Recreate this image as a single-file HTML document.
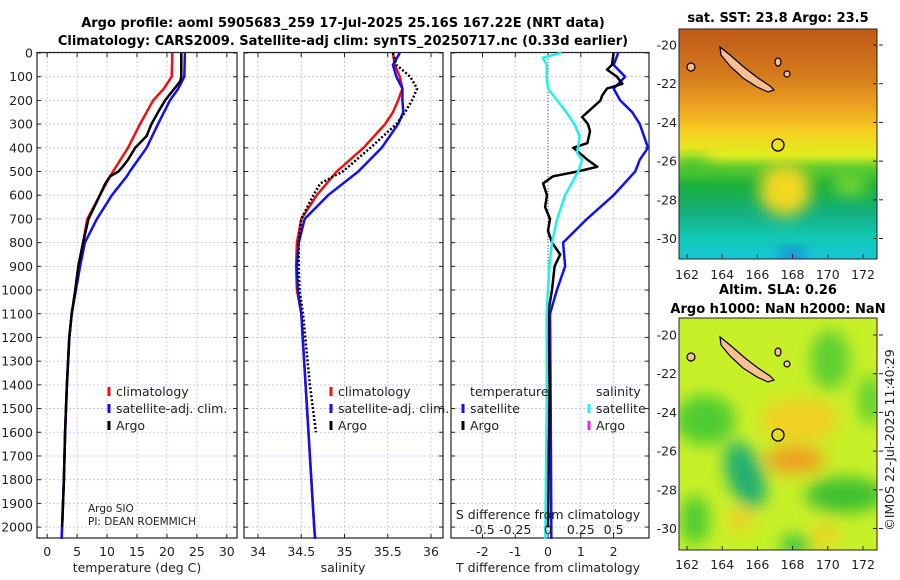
<!DOCTYPE html>
<html><head><meta charset="utf-8"><style>
body{margin:0;background:#fff;}
svg{display:block;font-family:"DejaVu Sans","Liberation Sans",sans-serif;}
</style></head><body>
<svg id="s" width="900" height="580">
<defs>
<linearGradient id="sstg" x1="0" y1="0" x2="0" y2="1">
<stop offset="0" stop-color="#c05a18"/><stop offset="0.2" stop-color="#d47a1c"/><stop offset="0.33" stop-color="#eca020"/><stop offset="0.45" stop-color="#f5d020"/><stop offset="0.55" stop-color="#e0ee20"/><stop offset="0.6" stop-color="#60cc30"/><stop offset="0.68" stop-color="#18b038"/><stop offset="0.8" stop-color="#14b080"/><stop offset="0.9" stop-color="#10c8b0"/><stop offset="1" stop-color="#18c8d8"/></linearGradient>
<filter id="bl" x="-50%" y="-50%" width="200%" height="200%"><feGaussianBlur stdDeviation="8"/></filter>
<clipPath id="c1"><rect x="679" y="29" width="198" height="230"/></clipPath>
<clipPath id="c2"><rect x="679" y="318" width="198" height="232"/></clipPath>
</defs>
<g id="titles" font-weight="bold" font-size="13" text-anchor="middle">
<text x="343" y="27">Argo profile: aoml 5905683_259 17-Jul-2025 25.16S 167.22E (NRT data)</text>
<text x="343" y="45">Climatology: CARS2009. Satellite-adj clim: synTS_20250717.nc (0.33d earlier)</text>
<text x="778" y="22">sat. SST: 23.8  Argo: 23.5</text>
<text x="778" y="294">Altim. SLA: 0.26</text>
<text x="778" y="313">Argo h1000: NaN h2000: NaN</text>
</g>
<g clip-path="url(#c1)">
<rect x="679" y="29" width="198" height="230" fill="url(#sstg)"/>
<ellipse cx="785" cy="190" rx="26" ry="26" fill="#f2d820" filter="url(#bl)"/>
<ellipse cx="692" cy="165" rx="18" ry="8" fill="#40c030" filter="url(#bl)"/>
<ellipse cx="850" cy="185" rx="18" ry="10" fill="#80d830" filter="url(#bl)"/>
<ellipse cx="792" cy="255" rx="12" ry="6" fill="#1860e0" filter="url(#bl)"/>
</g>
<g clip-path="url(#c2)">
<rect x="679" y="318" width="198" height="232" fill="#c8f028"/>
<g filter="url(#bl)">
<ellipse cx="705" cy="420" rx="30" ry="25" fill="#50cc30"/>
<ellipse cx="745" cy="475" rx="18" ry="35" fill="#20b070" transform="rotate(-20 745 475)"/>
<ellipse cx="830" cy="360" rx="20" ry="30" fill="#60d030"/>
<ellipse cx="845" cy="495" rx="40" ry="18" fill="#40c030"/>
<ellipse cx="870" cy="400" rx="12" ry="25" fill="#60d030"/>
<ellipse cx="695" cy="520" rx="15" ry="25" fill="#50cc30"/>
<ellipse cx="795" cy="545" rx="15" ry="10" fill="#30c040"/>
<ellipse cx="795" cy="460" rx="30" ry="14" fill="#f0a020"/>
<ellipse cx="800" cy="420" rx="40" ry="22" fill="#f0d020"/>
<ellipse cx="740" cy="520" rx="12" ry="12" fill="#f0d020"/>
<ellipse cx="825" cy="535" rx="12" ry="12" fill="#f0d020"/>
</g>
</g>
<g id="islands" fill="#f8c090" stroke="#000" stroke-width="1.2">
<polygon points="720,47 730,55 745,68 758,78 770,86 774,90 768,92 757,87 743,78 730,66 721,55"/>
<polygon points="720,337 730,345 745,358 758,368 770,376 774,380 768,382 757,377 743,368 730,356 721,345"/>
<ellipse cx="691" cy="67" rx="4" ry="4"/><ellipse cx="691" cy="357" rx="4" ry="4"/>
<ellipse cx="778" cy="62" rx="3" ry="4"/><ellipse cx="778" cy="352" rx="3" ry="4"/>
<ellipse cx="787" cy="74" rx="3" ry="3"/><ellipse cx="787" cy="364" rx="3" ry="3"/>
</g>
<circle cx="778" cy="145" r="6" fill="none" stroke="#000" stroke-width="1.3"/>
<circle cx="778" cy="435" r="6" fill="none" stroke="#000" stroke-width="1.3"/>
<rect x="679" y="29" width="198" height="230" fill="none" stroke="#222"/>
<rect x="679" y="318" width="198" height="232" fill="none" stroke="#222"/>
<text transform="translate(894 440) rotate(-90)" font-size="12.5" text-anchor="middle" fill="#222">©IMOS 22-Jul-2025 11:40:29</text>
<g id="plots"></g>
</svg>
<script>
// ---- data ----
const depthTClim=[0,100,150,200,300,400,500,520,600,700,800,900,1000,1100,1200,1400,1600,1800,2000,2050];
const tempClim=[20.9,20.8,19.5,17.7,15.5,13.5,11,10.5,8.8,6.7,6,5.2,4.7,4.1,3.7,3.3,3.0,2.8,2.5,2.4];
const tempSat=[23,22.9,21.9,20.5,18.5,16.6,13.8,13.3,10.8,8.3,6.3,5.5,4.8,4.1,3.7,3.3,3.0,2.8,2.5,2.4];
const depthTArgo=[0,100,120,200,250,300,350,400,450,480,500,520,550,600,700,800,900,1000,1100,1200,1400,1600,1800,2000];
const tempArgo=[22.4,22.4,22.2,19.7,18.5,17.4,16.6,14.7,13.5,12.6,11.9,10.5,9.7,8.8,6.9,6,5.2,4.7,4.1,3.7,3.3,3.0,2.8,2.5];
const depthSClim=[0,50,100,150,200,250,300,400,500,600,700,800,900,1000,1100,1400,1700,2000,2050];
const salClim=[35.56,35.58,35.64,35.67,35.62,35.56,35.47,35.22,34.91,34.68,34.5,34.45,34.44,34.45,34.5,34.55,34.6,34.65,34.66];
const salSat=[35.64,35.56,35.6,35.67,35.67,35.68,35.62,35.43,35.16,34.81,34.54,34.47,34.45,34.46,34.5,34.55,34.6,34.65,34.66];
const depthSArgo=[0,50,100,150,200,250,300,400,500,550,600,700,800,900,1000,1100,1400,1600];
const salArgo=[35.56,35.6,35.76,35.84,35.78,35.7,35.6,35.3,34.98,34.72,34.64,34.5,34.47,34.47,34.48,34.52,34.6,34.67];
const depthDT=[0,50,100,150,200,250,300,400,450,500,600,700,800,900,1000,1100,1500,2000,2050];
const dTSat=[2.14,2.0,2.35,2.0,2.2,2.57,2.8,3.05,2.8,2.66,2.0,1.19,0.46,0.52,0.27,0.06,0.08,0.1,0.1];
const depthDTArgo=[0,50,70,100,130,150,180,200,250,270,300,330,380,400,450,480,500,520,550,600,650,700,750,800,850,900,1000,1100,1400,1700,2000];
const dTArgo=[2.0,1.95,1.8,2.1,2.27,1.8,1.65,1.6,1.2,1.04,1.22,1.28,1.2,0.77,1.2,1.5,0.9,0.15,-0.15,-0.03,-0.09,0.06,0,0.12,0.37,0.2,0.12,0,0.05,0.02,0];
const depthDS=[0,20,50,100,150,200,250,300,350,400,420,450,500,600,700,800,900,1000,1100,1500,2000,2050];
const dSSat=[0.1,-0.04,-0.01,-0.01,0,0.07,0.14,0.2,0.24,0.23,0.22,0.26,0.23,0.13,0.07,0.03,0.01,0,-0.01,-0.01,-0.02,-0.02];
const depthTicks=[0,100,200,300,400,500,600,700,800,900,1000,1100,1200,1300,1400,1500,1600,1700,1800,1900,2000];
const tTicks=[0,5,10,15,20,25,30];
const sTicks=[34,34.5,35,35.5,36];
const sTickLabels=["34","34.5","35","35.5","36"];
const dTTicks=[-2,-1,0,1,2];
const dSTicks=[-0.5,-0.25,0,0.25,0.5];
const dSTickLabels=["-0.5","-0.25","0","0.25","0.5"];
const lonTicks=[162,164,166,168,170,172];
const latTicks=[-20,-22,-24,-26,-28,-30];

const NS="http://www.w3.org/2000/svg";
const root=document.getElementById('plots');
function mk(t,a,p){const e=document.createElementNS(NS,t);for(const k in a)e.setAttribute(k,a[k]);(p||root).appendChild(e);return e;}
const TOP=53,BOT=538,DMAX=2046;
const Y=d=>TOP+d*((BOT-TOP)/DMAX);
const panels=[
 {x0:37,x1:237,lo:-1.7,hi:31.7},
 {x0:244,x1:443,lo:33.838,hi:36.139},
 {x0:451,x1:649,lo:-2.96,hi:3.08}];
function X(p,v){return p.x0+(v-p.lo)/(p.hi-p.lo)*(p.x1-p.x0);}
function txt(x,y,s,anchor,size,fill){const t=mk('text',{x:x,y:y,'text-anchor':anchor||'middle','font-size':size||12.5,fill:fill||'#222'});t.textContent=s;return t;}
function line(p,ds,vs,color,w,dash,name,scale){
 const pts=ds.map((d,i)=>X(p,vs[i]*(scale||1)).toFixed(1)+','+Y(d).toFixed(1)).join(' ');
 const e=mk('polyline',{points:pts,fill:'none',stroke:color,'stroke-width':w,'stroke-linejoin':'round'});
 if(dash)e.setAttribute('stroke-dasharray',dash);
 
 
}
panels.forEach((p,pi)=>{
 const g=mk('g',{});
 
 
 depthTicks.forEach(d=>{
  mk('line',{x1:p.x0,x2:p.x1,y1:Y(d),y2:Y(d),stroke:'#b8c0e8','stroke-width':0.8,'stroke-dasharray':'2,2'},g);
  mk('line',{x1:p.x0,x2:p.x0+4,y1:Y(d),y2:Y(d),stroke:'#222'},g);
  mk('line',{x1:p.x1,x2:p.x1-4,y1:Y(d),y2:Y(d),stroke:'#222'},g);
 });
 const xt=pi==0?tTicks:pi==1?sTicks:dTTicks;
 xt.forEach((v,i)=>{
  const x=X(p,v);
  mk('line',{x1:x,x2:x,y1:TOP,y2:BOT,stroke:'#b8c0e8','stroke-width':0.8,'stroke-dasharray':'2,2'},g);
  mk('line',{x1:x,x2:x,y1:BOT,y2:BOT-4,stroke:'#222'},g);
  mk('line',{x1:x,x2:x,y1:TOP,y2:TOP+4,stroke:'#222'},g);
  const lab=txt(x,556,pi==1?sTickLabels[i]:String(v));
  
  
 });
 mk('rect',{x:p.x0,y:52.5,width:p.x1-p.x0,height:BOT-52.5,fill:'none',stroke:'#222','stroke-width':1.2},g);
});
depthTicks.forEach(d=>{const t=txt(33,Y(d)+4.5,String(d),'end');
 
 });
mk('line',{x1:X(panels[2],0),x2:X(panels[2],0),y1:TOP,y2:BOT,stroke:'#555','stroke-width':1,'stroke-dasharray':'1,2'});
line(panels[0],depthTClim,tempClim,'#f01010',2.5,null,'temp-climatology-line');
line(panels[0],depthTClim,tempSat,'#1010f0',2.5,null,'temp-satellite-line');
line(panels[0],depthTArgo,tempArgo,'#000',2.5,null,'temp-argo-line');
line(panels[1],depthSClim,salClim,'#f01010',2.5,null,'sal-climatology-line');
line(panels[1],depthSClim,salSat,'#1010f0',2.5,null,'sal-satellite-line');
line(panels[1],depthSArgo,salArgo,'#000',2.5,'2,2','sal-argo-line');
line(panels[2],depthDT,dTSat,'#1010f0',2.5,null,'dt-satellite-line');
line(panels[2],depthDTArgo,dTArgo,'#000',2.5,null,'dt-argo-line');
line(panels[2],depthDS,dSSat,'#20f0f0',2.5,null,'ds-satellite-line',4);
dSTicks.forEach((v,i)=>{const t=txt(X(panels[2],v*4),534,dSTickLabels[i]);
 
 });
[[137,'temperature (deg C)'],[343,'salinity'],[548,'T difference from climatology']].forEach(a=>{
 const t=txt(a[0],572,a[1]);
 
 });
const st=txt(548,519,'S difference from climatology');


function leg(x,y,c,s){mk('line',{x1:x,x2:x,y1:y-9,y2:y,stroke:c,'stroke-width':3});
 const t=txt(x+7,y,s,'start');
 
 }
leg(109,396,'#f01010','climatology');leg(109,413,'#1010f0','satellite-adj. clim.');leg(109,430,'#000','Argo');
leg(331,396,'#f01010','climatology');leg(331,413,'#1010f0','satellite-adj. clim.');leg(331,430,'#000','Argo');
txt(470,396,'temperature','start');txt(596,396,'salinity','start');
leg(463,413,'#1010f0','satellite');leg(463,430,'#000','Argo');
leg(589,413,'#20f0f0','satellite');leg(589,430,'#f020f0','Argo');
const pi1=txt(88,512,'Argo SIO','start',10.5);
const pi2=txt(88,525,'PI: DEAN ROEMMICH','start',10.5);
const LX=v=>687+(v-162)*17.6;
lonTicks.forEach(v=>{
 [[258,279],[550,569]].forEach(a=>{
  mk('line',{x1:LX(v),x2:LX(v),y1:a[0],y2:a[0]-4,stroke:'#222'});
  const t=txt(LX(v),a[1],String(v));
  
  
 });
});
latTicks.forEach(v=>{
 [45,335].forEach(o=>{
  const y=o+(-20-v)*19.35;
  mk('line',{x1:877,x2:873,y1:y,y2:y,stroke:'#222'});
  mk('line',{x1:879,x2:883,y1:y,y2:y,stroke:'#222'});
  const t=txt(677,y+4.5,String(v),'end');
  
  
 });
});
</script>
</body></html>
